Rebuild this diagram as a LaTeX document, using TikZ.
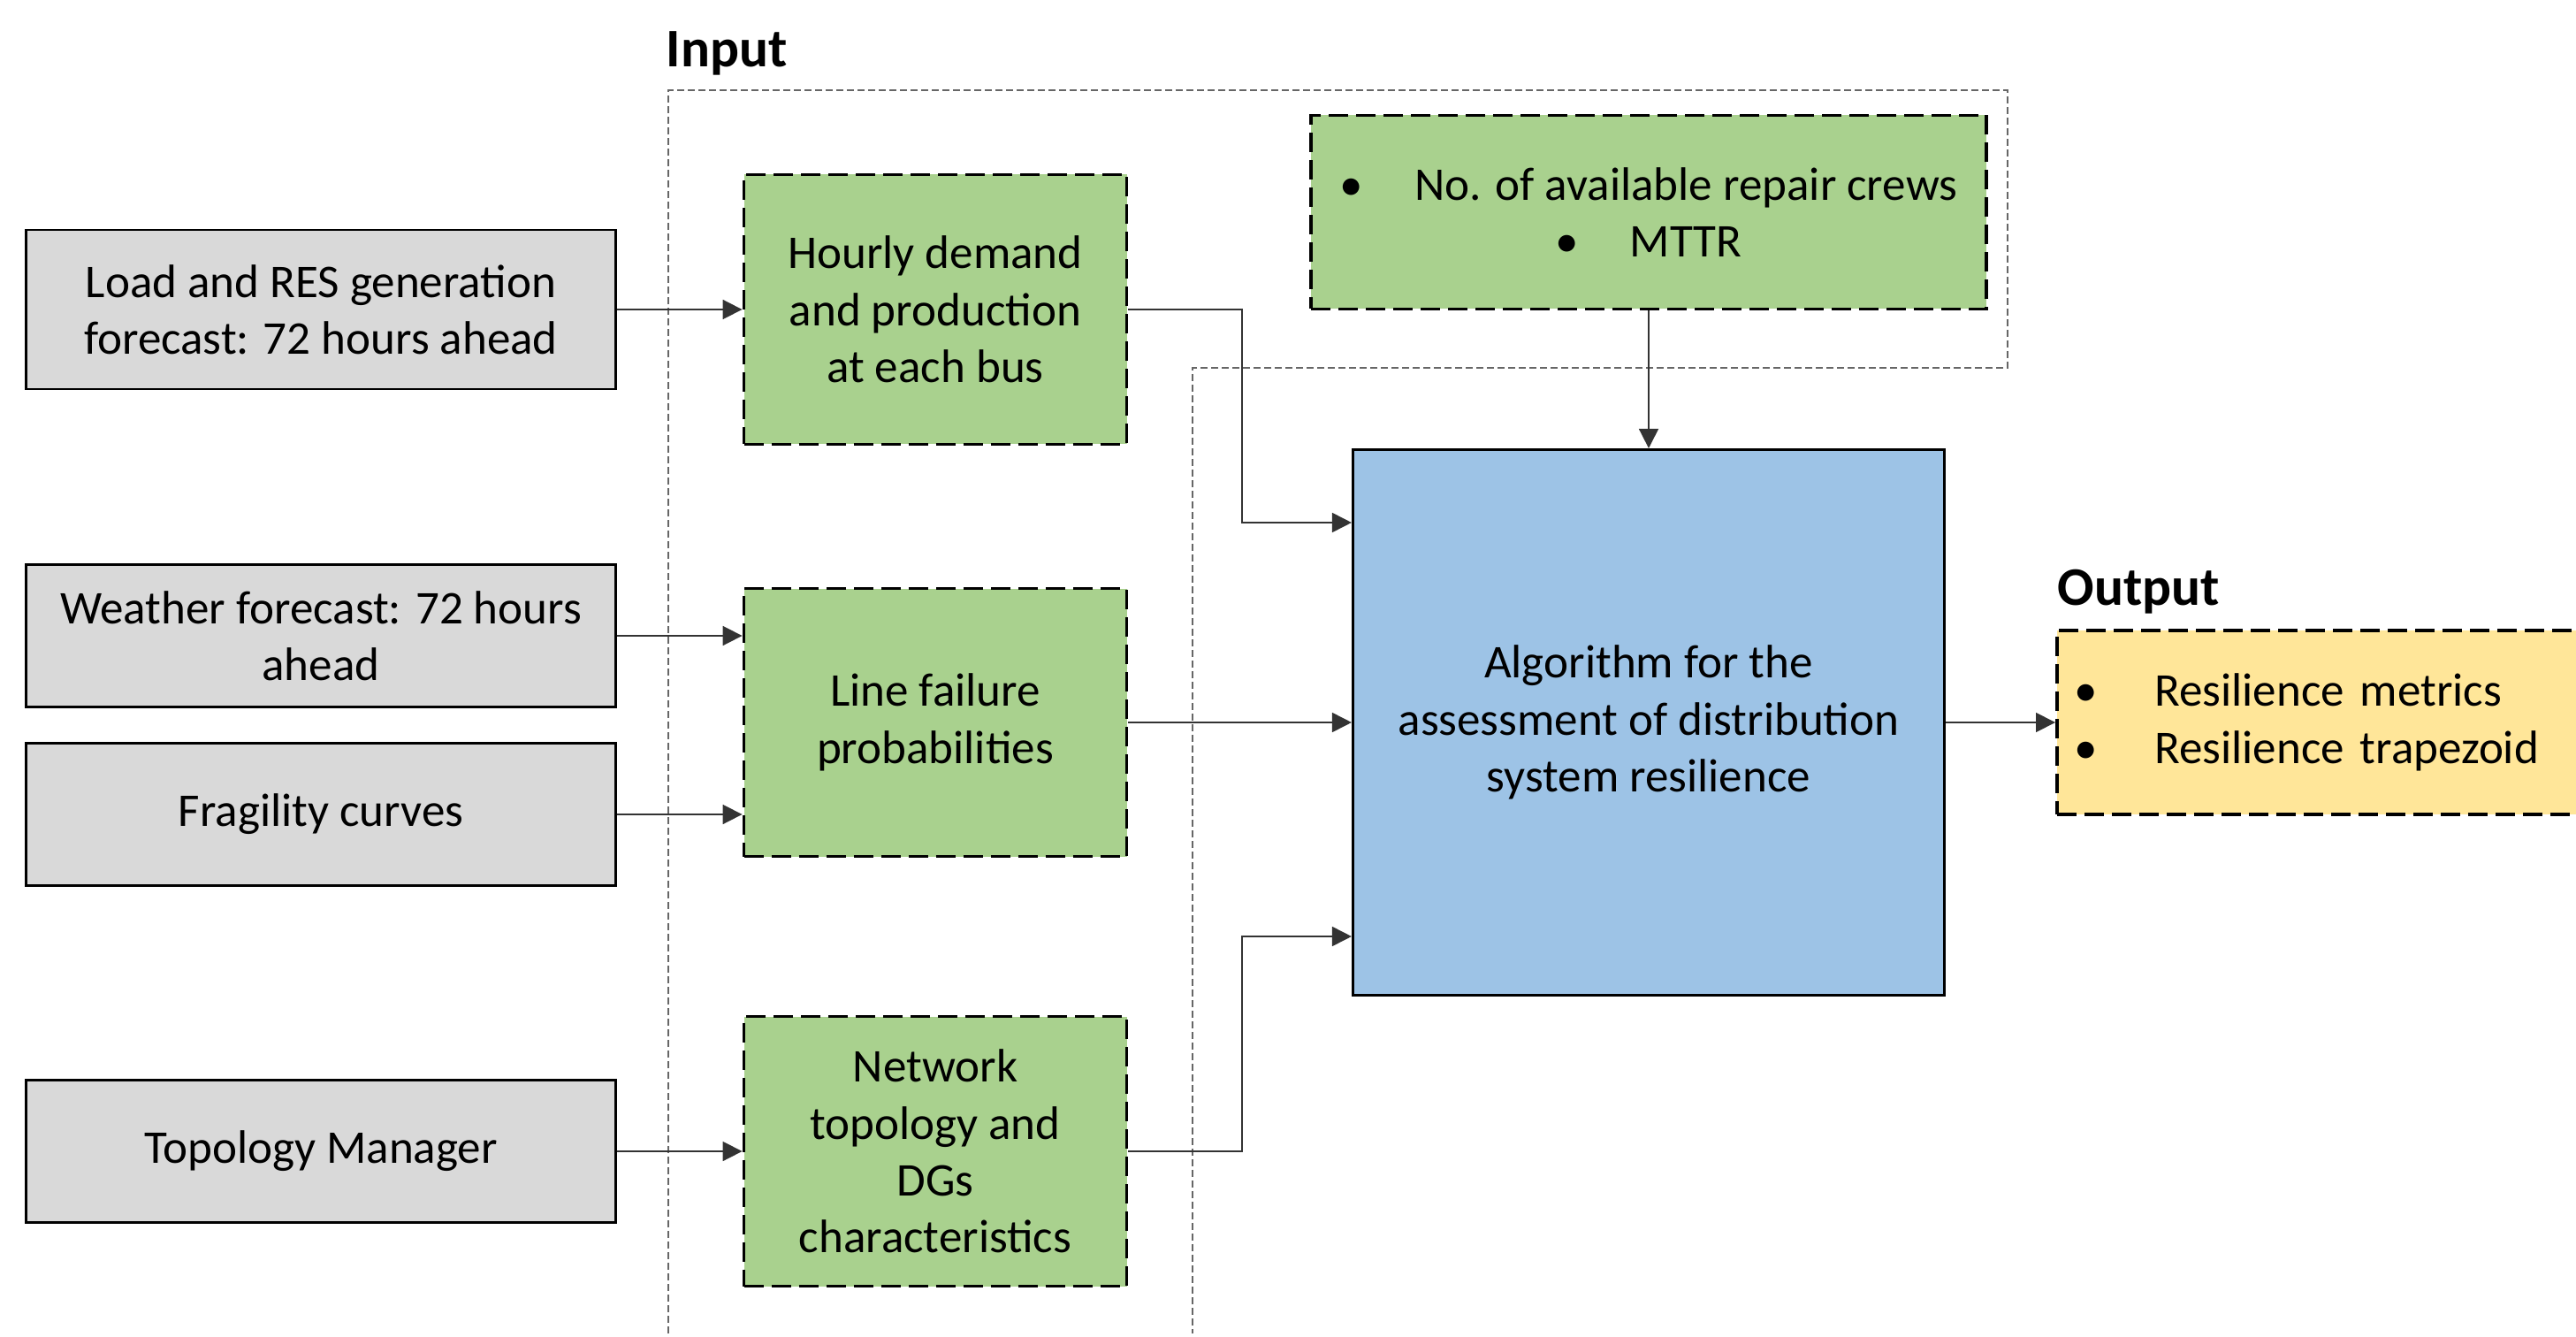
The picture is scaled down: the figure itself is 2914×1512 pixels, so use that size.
\documentclass[tikz,border=0pt]{standalone}
\usepackage{fontspec}
\setmainfont{Carlito}
\usetikzlibrary{arrows.meta}

\definecolor{boxgray}{HTML}{D9D9D9}
\definecolor{boxgreen}{HTML}{A9D18E}
\definecolor{boxblue}{HTML}{9DC3E6}
\definecolor{boxyellow}{HTML}{FFE699}

\begin{document}
\begin{tikzpicture}[x=0.1mm,y=-0.1mm]
    \tikzset{source/.style = {shape=rectangle,draw,line width=0.8pt,fill=boxgray,minimum width=66.7mm,minimum height=16.1mm,align=center,inner sep=0pt,font=\fontsize{15.1}{18.3}\selectfont}}
    \tikzset{data/.style = {shape=rectangle,draw,line width=1.1pt,dash pattern=on 2.2mm off 0.9mm,fill=boxgreen,align=center,inner sep=0pt,font=\fontsize{15.1}{18.3}\selectfont}}
    \tikzset{edge/.style = {->,> = {Triangle[length=2.2mm,width=2.2mm]},line width=0.5pt,draw=black!80}}
    \tikzset{region/.style = {draw=black!60,line width=0.5pt,dash pattern=on 0.8mm off 0.4mm}}
    \tikzset{title/.style = {anchor=west,inner sep=0pt,font=\fontsize{17.5}{21}\selectfont\bfseries}}
    \useasboundingbox (0,0) rectangle (2914,1512);
    % input region
    \draw[region] (756,1508) -- (756,102) -- (2271,102) -- (2271,416) -- (1349,416) -- (1349,1508);
    \node[title] (input) at (753,60) {Input};
    \node[title] (output) at (2327,669) {Output};
    % forecasts and tools
    \node[source,minimum height=18mm] (load) at (363,350) {Load and RES generation\\forecast: 72 hours ahead};
    \node[source] (weather) at (363,719) {Weather forecast: 72 hours\\ahead};
    \node[source] (fragility) at (363,921) {Fragility curves};
    \node[source] (topology) at (363,1302) {Topology Manager};
    % input data
    \node[data,minimum width=43.3mm,minimum height=30.5mm] (demand) at (1058,350) {Hourly demand\\and production\\at each bus};
    \node[data,minimum width=43.3mm,minimum height=30.3mm] (failure) at (1058,817) {Line failure\\probabilities};
    \node[data,minimum width=43.3mm,minimum height=30.5mm] (network) at (1058,1302) {Network\\topology and\\DGs\\characteristics};
    \node[data,minimum width=76.4mm,minimum height=21.9mm] (crews) at (1865,240) {\textbullet\hspace{5.8mm}No. of available repair crews\\\textbullet\hspace{5.8mm}MTTR};
    % algorithm and results
    \node[shape=rectangle,draw,line width=0.9pt,fill=boxblue,minimum width=66.9mm,minimum height=61.7mm,align=center,font=\fontsize{15.1}{18.3}\selectfont] (algo) at (1865,817) {Algorithm for the\\assessment of distribution\\system resilience};
    \node[data,fill=boxyellow,anchor=west,minimum height=20.8mm,text width=55mm,align=left,inner xsep=2.0mm] (results) at (2325,817) {\textbullet\hspace{6.4mm}Resilience metrics\\\textbullet\hspace{6.4mm}Resilience trapezoid};
    % edges
    \coordinate (bendtop) at (1405,591);
    \coordinate (bendbottom) at (1405,1059);
    \draw[edge] (load) -- (demand);
    \draw[edge] (weather) -- (weather -| failure.west);
    \draw[edge] (fragility) -- (fragility -| failure.west);
    \draw[edge] (topology) -- (network);
    \draw[edge] (demand.east) -| (bendtop) -- (bendtop -| algo.west);
    \draw[edge] (failure) -- (algo);
    \draw[edge] (network.east) -| (bendbottom) -- (bendbottom -| algo.west);
    \draw[edge] (crews) -- (algo);
    \draw[edge] (algo) -- (results);
\end{tikzpicture}
\end{document}
